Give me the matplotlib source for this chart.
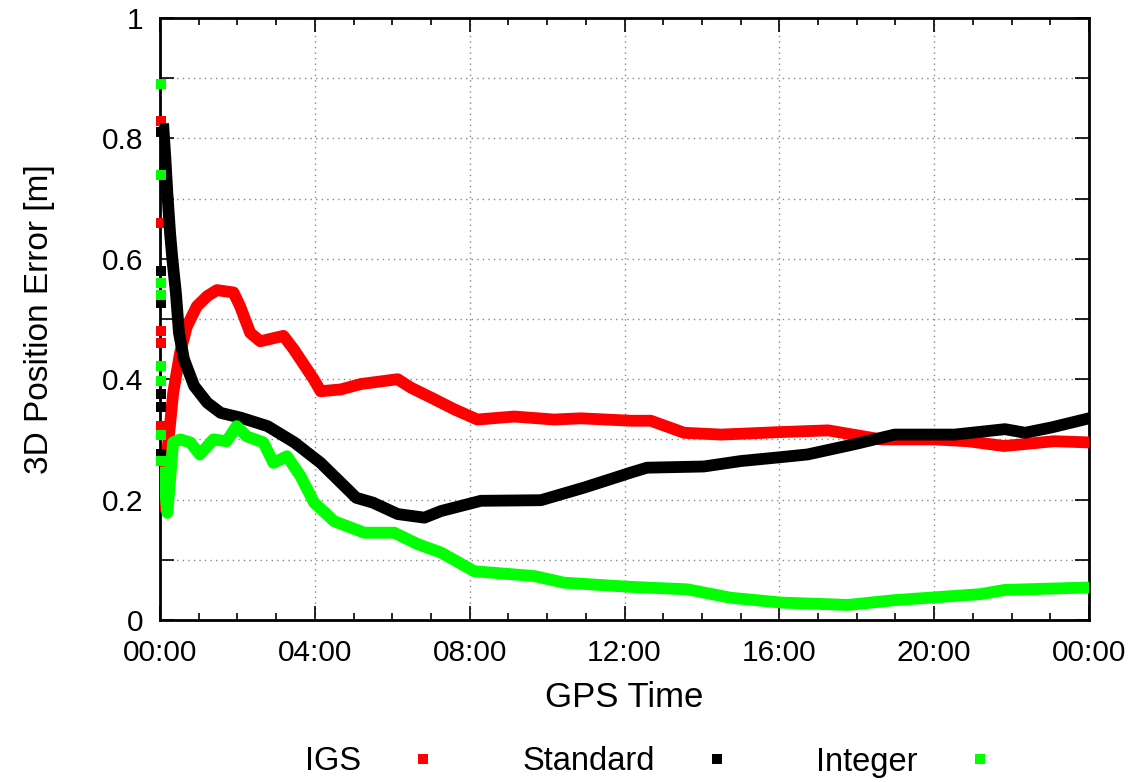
import matplotlib
matplotlib.use('Agg')
import matplotlib.pyplot as plt
from matplotlib.lines import Line2D

# GPS time in hours, 3D position error in metres
igs_h = [0.04, 0.17, 0.34, 0.52, 0.69, 0.95, 1.22, 1.47, 1.9, 2.07, 2.33, 2.59, 3.19, 3.45,
         3.97, 4.15, 4.67, 5.19, 6.14, 6.48, 7.08, 7.6, 8.2, 9.15, 10.18, 10.87, 12.17,
         12.68, 13.54, 14.5, 15.96, 17.26, 18.63, 20.0, 20.87, 21.81, 23.1, 24.0]
igs_v = [0.19, 0.267, 0.377, 0.444, 0.487, 0.521, 0.538, 0.548, 0.544, 0.521, 0.477, 0.463,
         0.472, 0.45, 0.40, 0.38, 0.383, 0.392, 0.40, 0.386, 0.367, 0.35, 0.333, 0.338, 0.333,
         0.335, 0.331, 0.331, 0.311, 0.308, 0.312, 0.315, 0.300, 0.300, 0.297, 0.289, 0.297,
         0.295]

std_h = [0.09, 0.14, 0.19, 0.26, 0.32, 0.41, 0.49, 0.62, 0.88, 1.22, 1.57, 2.09, 2.78, 3.47,
         4.15, 5.07, 5.5, 6.14, 6.83, 7.26, 8.29, 9.84, 10.96, 12.17, 12.58, 14.05, 15.0,
         15.96, 16.73, 17.94, 18.98, 20.53, 21.83, 22.35, 23.04, 24.0]
std_v = [0.815, 0.765, 0.709, 0.643, 0.599, 0.544, 0.477, 0.433, 0.389, 0.361, 0.344, 0.336,
         0.322, 0.295, 0.261, 0.203, 0.195, 0.176, 0.170, 0.181, 0.198, 0.199, 0.220, 0.245,
         0.253, 0.255, 0.264, 0.270, 0.275, 0.292, 0.308, 0.308, 0.317, 0.311, 0.320, 0.335]

int_h = [0.09, 0.19, 0.34, 0.52, 0.78, 1.03, 1.38, 1.72, 1.98, 2.24, 2.67, 2.93, 3.28, 3.63,
         3.98, 4.5, 5.28, 6.05, 6.66, 7.26, 8.12, 9.67, 10.44, 12.17, 13.62, 14.74, 16.04,
         17.77, 18.98, 21.2, 21.83, 24.0]
int_v = [0.245, 0.178, 0.295, 0.30, 0.295, 0.275, 0.30, 0.297, 0.322, 0.305, 0.295, 0.261,
         0.272, 0.239, 0.195, 0.164, 0.145, 0.145, 0.126, 0.112, 0.081, 0.073, 0.062, 0.055,
         0.051, 0.037, 0.029, 0.025, 0.033, 0.043, 0.050, 0.054]

# first epochs (before convergence), scattered at the start
igs_first = [0.829, 0.66, 0.48, 0.46, 0.322]
std_first = [0.81, 0.58, 0.527, 0.375, 0.353, 0.275]
int_first = [0.891, 0.74, 0.56, 0.54, 0.422, 0.397, 0.308, 0.264]

names = ['IGS', 'Standard', 'Integer']
colors = ['#ff0000', '#000000', '#00ff00']

x_ticks = [0, 4, 8, 12, 16, 20, 24]
x_labels = ['00:00', '04:00', '08:00', '12:00', '16:00', '20:00', '00:00']

fig = plt.figure(figsize=(11.39, 7.82), dpi=100)
ax = fig.add_axes([160 / 1139, 1 - 620 / 782, 929 / 1139, 602 / 782])

series = [(igs_h, igs_v, igs_first), (std_h, std_v, std_first), (int_h, int_v, int_first)]
for (h, v, first), c in zip(series, colors):
    ax.plot(h, v, color=c, lw=8.5, solid_capstyle='projecting', zorder=3)
    ax.plot([0.02] * len(first), first, color=c, ls='none', marker='s', ms=7.5,
            mew=0, zorder=3, clip_on=False)

ax.set_xlim(0, 24)
ax.set_ylim(0, 1)
ax.set_xticks(x_ticks)
ax.set_xticklabels(x_labels)
ax.set_xticks(range(25), minor=True)
yt = [i / 10 for i in range(11)]
ax.set_yticks(yt)
ax.set_yticklabels(['0', '', '0.2', '', '0.4', '', '0.6', '', '0.8', '', '1'])

for lab in ax.get_xticklabels() + ax.get_yticklabels():
    lab.set_fontfamily('Liberation Sans')
    lab.set_fontsize(21.5)

ax.tick_params(which='major', direction='in', length=10, width=1.2, top=True, right=True,
               pad=12)
ax.tick_params(which='minor', direction='in', length=5, width=1.2, top=True, right=False)
ax.tick_params(axis='x', which='major', pad=14)

ax.grid(True, which='major', color='#888888', linestyle=(0, (1, 3)), linewidth=1.0)
for s in ax.spines.values():
    s.set_linewidth(2)

ax.set_xlabel('GPS Time', family='Liberation Sans', fontsize=25, labelpad=10)
ax.set_ylabel('3D Position Error [m]', family='Liberation Sans', fontsize=24, labelpad=34)

handles = [Line2D([], [], color=c, marker='s', ls='none', ms=7.2, mew=0) for c in colors]
fig.legend(handles, names, loc='center', bbox_to_anchor=(0.571, 1 - 762 / 782), ncol=3,
           frameon=False, markerfirst=False, handlelength=1.0, handletextpad=1.4,
           columnspacing=2.55, prop={'family': 'Liberation Sans', 'size': 23.5})

fig.savefig('out.png', dpi=100)
